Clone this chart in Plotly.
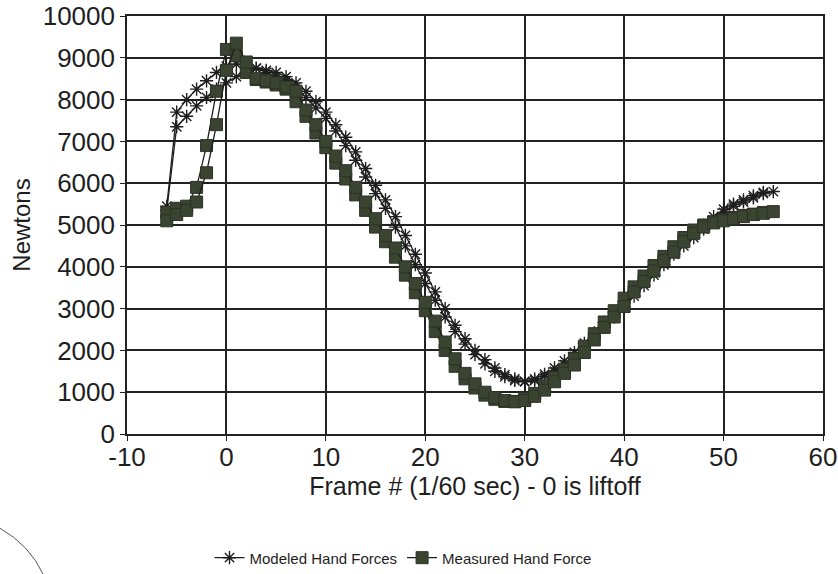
import plotly.graph_objects as go

# Frame numbers (1/60 sec), 0 = liftoff
frames = list(range(-6, 56))
frames_b = list(range(-6, 55))

# Modeled hand forces (N) - main curve and the half-frame-earlier companion curve
modeled_a = [5350, 7350, 7600, 7850, 8050, 8250, 8400, 8550, 8650, 8750,
             8700, 8650, 8550, 8400, 8200, 7950, 7700, 7400, 7100, 6750,
             6350, 5950, 5600, 5200, 4750, 4300, 3850, 3400, 3000, 2600,
             2280, 2000, 1780, 1580, 1420, 1320, 1250, 1280, 1380, 1500,
             1660, 1850, 2050, 2300, 2550, 2800, 3050, 3300, 3550, 3800,
             4050, 4300, 4500, 4700, 4900, 5100, 5300, 5450, 5550, 5650,
             5750, 5800]
modeled_b = [5450, 7700, 8000, 8250, 8450, 8650, 8800, 8850, 8800, 8750,
             8650, 8550, 8450, 8300, 8050, 7800, 7550, 7250, 6900, 6550,
             6150, 5750, 5400, 4950, 4500, 4050, 3600, 3200, 2800, 2450,
             2150, 1900, 1680, 1500, 1370, 1280, 1260, 1320, 1430, 1580,
             1750, 1950, 2170, 2420, 2670, 2920, 3170, 3420, 3670, 3920,
             4170, 4400, 4600, 4800, 5000, 5200, 5380, 5500, 5600, 5700,
             5780]

# Measured hand force (N)
measured_a = [5100, 5250, 5350, 5550, 6250, 7400, 8700, 9350, 8900, 8500,
              8450, 8400, 8300, 8200, 7750, 7400, 7000, 6650, 6300, 5900,
              5550, 5150, 4750, 4450, 4000, 3600, 3150, 2700, 2200, 1800,
              1450, 1200, 1000, 870, 800, 770, 800, 900, 1050, 1250,
              1450, 1650, 1950, 2250, 2550, 2800, 3050, 3400, 3650, 3900,
              4150, 4350, 4600, 4800, 4950, 5050, 5100, 5150, 5200, 5250,
              5280, 5320]
measured_b = [5300, 5400, 5450, 5900, 6900, 8200, 9200, 9050, 8650, 8480,
              8420, 8350, 8250, 7950, 7600, 7200, 6850, 6480, 6100, 5720,
              5350, 4950, 4600, 4230, 3800, 3380, 2950, 2450, 2000, 1620,
              1320, 1100, 930, 830, 780, 780, 850, 970, 1150, 1350,
              1550, 1800, 2100, 2400, 2680, 2950, 3250, 3520, 3780, 4030,
              4250, 4480, 4700, 4880, 5000, 5080, 5130, 5180, 5230, 5260,
              5300]

x_ticks = [-10, 0, 10, 20, 30, 40, 50, 60]
x_tick_text = ["-10", "0", "10", "20", "30", "40", "50", "60"]
y_ticks = [0, 1000, 2000, 3000, 4000, 5000, 6000, 7000, 8000, 9000, 10000]
y_tick_text = ["0", "1000", "2000", "3000", "4000", "5000", "6000", "7000",
               "8000", "9000", "10000"]

INK = "#1e1e1e"
OLIVE = "#3a4430"
FONT = "Liberation Sans, Arial, sans-serif"

fig = go.Figure()

mod_marker = dict(symbol="asterisk-open", size=11, line=dict(color="#2a2f25", width=1.4))
meas_marker = dict(symbol="square", size=12, color=OLIVE, line=dict(color="#2c3324", width=1))
line_style = dict(color=INK, width=1.3)

fig.add_trace(go.Scatter(
    x=frames_b, y=modeled_b, mode="lines+markers", name="Modeled Hand Forces",
    legendgroup="mod", showlegend=False, line=line_style, marker=mod_marker,
))
fig.add_trace(go.Scatter(
    x=frames, y=modeled_a, mode="lines+markers", name="Modeled Hand Forces",
    legendgroup="mod", line=line_style, marker=mod_marker,
))
fig.add_trace(go.Scatter(
    x=frames_b, y=measured_b, mode="lines+markers", name="Measured Hand Force",
    legendgroup="meas", showlegend=False, line=line_style, marker=meas_marker,
))
fig.add_trace(go.Scatter(
    x=frames, y=measured_a, mode="lines+markers", name="Measured Hand Force",
    legendgroup="meas", line=line_style, marker=meas_marker,
))

axis_common = dict(
    showgrid=True, gridcolor="#222222", gridwidth=1.6,
    showline=True, linecolor="#222222", linewidth=1.6, mirror=True,
    ticks="outside", ticklen=5, tickcolor="#222222", tickwidth=1.4,
    zeroline=False,
    tickfont=dict(family=FONT, size=26, color=INK),
)

# faint scan-edge arc in the lower-left corner (paper coordinates)
arc = "M -0.183 -0.225 Q -0.14 -0.265 -0.12 -0.337"

fig.update_layout(
    width=838, height=574,
    paper_bgcolor="white", plot_bgcolor="white",
    margin=dict(l=127, r=15, t=16, b=140, autoexpand=False),
    font=dict(family=FONT, color=INK),
    xaxis=dict(range=[-10, 60], tickvals=x_ticks, ticktext=x_tick_text,
               ticklabelstandoff=-6,
               title=dict(text="Frame # (1/60 sec) - 0 is liftoff",
                          font=dict(family=FONT, size=25, color=INK), standoff=0),
               **axis_common),
    yaxis=dict(range=[0, 10000], tickvals=y_ticks, ticktext=y_tick_text,
               title=dict(text="Newtons", font=dict(family=FONT, size=24, color=INK), standoff=5),
               **axis_common),
    legend=dict(orientation="h", xref="container", yref="container",
                x=0.25, xanchor="left", y=0.028, yanchor="middle",
                font=dict(family=FONT, size=15, color=INK),
                bgcolor="rgba(0,0,0,0)", itemwidth=30, tracegroupgap=0),
    showlegend=True,
    shapes=[dict(type="path", xref="paper", yref="paper", path=arc,
                 line=dict(color="#555555", width=1))],
)

fig.write_html(
    "out.html",
    config={"displayModeBar": False},
    post_script="document.body.style.margin='0';document.body.style.overflow='hidden';",
)
